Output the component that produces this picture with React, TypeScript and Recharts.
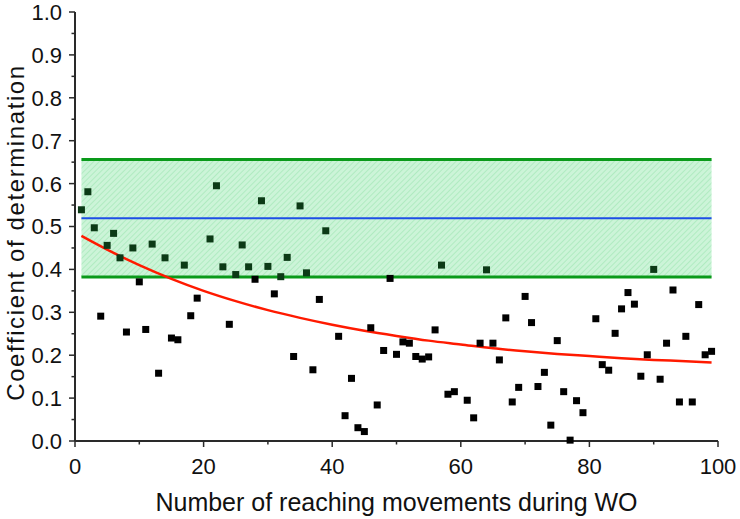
import React from "react";
import {
  ComposedChart,
  Scatter,
  Line,
  XAxis,
  YAxis,
  ReferenceArea,
  ReferenceLine,
  Label,
} from "recharts";

// trial index (reaching movement) and R² for that trial
const trials = [
  1, 2, 3, 4, 5, 6, 7, 8, 9, 10, 11, 12, 13, 14, 15, 16, 17, 18, 19,
  21, 22, 23, 24, 25, 26, 27, 28, 29, 30, 31, 32, 33, 34, 35, 36, 37, 38, 39,
  41, 42, 43, 44, 45, 46, 47, 48, 49, 50, 51, 52, 53, 54, 55, 56, 57, 58, 59,
  61, 62, 63, 64, 65, 66, 67, 68, 69, 70, 71, 72, 73, 74, 75, 76, 77, 78, 79,
  81, 82, 83, 84, 85, 86, 87, 88, 89, 90, 91, 92, 93, 94, 95, 96, 97, 98, 99,
];
const r2 = [
  0.539, 0.581, 0.497, 0.291, 0.456, 0.484, 0.427, 0.254, 0.45, 0.371, 0.26, 0.459, 0.158, 0.427, 0.24, 0.236, 0.41, 0.292, 0.333,
  0.471, 0.595, 0.406, 0.272, 0.388, 0.457, 0.406, 0.377, 0.56, 0.407, 0.343, 0.383, 0.428, 0.197, 0.548, 0.392, 0.166, 0.33, 0.49,
  0.244, 0.059, 0.146, 0.031, 0.022, 0.264, 0.084, 0.211, 0.379, 0.202, 0.231, 0.228, 0.197, 0.191, 0.196, 0.259, 0.41, 0.109, 0.115,
  0.095, 0.054, 0.228, 0.399, 0.228, 0.189, 0.287, 0.091, 0.125, 0.337, 0.276, 0.127, 0.16, 0.037, 0.234, 0.115, 0.002, 0.094, 0.066,
  0.285, 0.178, 0.165, 0.251, 0.308, 0.346, 0.319, 0.151, 0.201, 0.4, 0.144, 0.228, 0.352, 0.091, 0.244, 0.091, 0.318, 0.201, 0.209,
];

// fitted decay curve
const fitTrials = [1, 5, 10, 15, 20, 25, 30, 35, 40, 45, 50, 55, 60, 65, 70, 75, 80, 85, 90, 95, 99];
const fitValues = [
  0.478, 0.446, 0.41, 0.378, 0.35, 0.326, 0.305, 0.287, 0.271, 0.257, 0.245,
  0.234, 0.225, 0.216, 0.209, 0.203, 0.198, 0.193, 0.189, 0.186, 0.183,
];

// mean ± SD band
const bandStart = 1;
const bandEnd = 99;
const bandLow = 0.382;
const bandHigh = 0.656;
const bandMean = 0.519;

const xTicks = [0, 10, 20, 30, 40, 50, 60, 70, 80, 90, 100];
const yTicks = [
  0, 0.05, 0.1, 0.15, 0.2, 0.25, 0.3, 0.35, 0.4, 0.45, 0.5,
  0.55, 0.6, 0.65, 0.7, 0.75, 0.8, 0.85, 0.9, 0.95, 1.0,
];

const points = trials.map((x, i) => ({ x, y: r2[i] }));
const fitData = fitTrials.map((x, i) => ({ x, y: fitValues[i] }));

const FONT = "'Liberation Sans', Arial, sans-serif";
const AXIS = "#2a2a2a";

const SquareDot = (props: any) => {
  const { cx, cy, payload } = props;
  if (cx == null || cy == null) return null;
  const inBand = payload.y >= bandLow && payload.y <= bandHigh;
  return (
    <rect
      x={cx - 3.5}
      y={cy - 3.5}
      width={7}
      height={7}
      fill={inBand ? "#0c3a16" : "#000000"}
    />
  );
};

const XTick = (props: any) => {
  const { x, y, payload } = props;
  const major = payload.value % 20 === 0;
  return (
    <g>
      <line x1={x} x2={x} y1={y} y2={y + (major ? 6 : 3.5)} stroke={AXIS} strokeWidth={1.5} />
      {major && (
        <text x={x} y={y + 33} textAnchor="middle" fontSize={22} fontFamily={FONT} fill="#111">
          {payload.value}
        </text>
      )}
    </g>
  );
};

const YTick = (props: any) => {
  const { x, y, payload } = props;
  const major = Math.round(payload.value * 20) % 2 === 0;
  return (
    <g>
      <line x1={x} x2={x - (major ? 6 : 3.5)} y1={y} y2={y} stroke={AXIS} strokeWidth={1.5} />
      {major && (
        <text x={x - 13} y={y} dy="0.36em" textAnchor="end" fontSize={22} fontFamily={FONT} fill="#111">
          {payload.value.toFixed(1)}
        </text>
      )}
    </g>
  );
};

const XTitle = (props: any) => {
  const vb = props.viewBox || { x: 75, y: 441, width: 643 };
  return (
    <text
      x={vb.x + vb.width / 2}
      y={vb.y + 70}
      textAnchor="middle"
      fontSize={25}
      fontFamily={FONT}
      fill="#111"
    >
      Number of reaching movements during WO
    </text>
  );
};

const YTitle = (props: any) => {
  const vb = props.viewBox || { x: 0, y: 12, height: 429 };
  const cx = 24;
  const cy = vb.y + vb.height / 2 + 6;
  return (
    <text
      x={cx}
      y={cy}
      transform={`rotate(-90, ${cx}, ${cy})`}
      textAnchor="middle"
      fontSize={24}
      letterSpacing={1.6}
      fontFamily={FONT}
      fill="#111"
    >
      Coefficient of determination
    </text>
  );
};

export default function App() {
  return (
    <div style={{ position: "absolute", left: 0, top: 0, background: "#fff" }}>
      <ComposedChart
        width={740}
        height={519}
        margin={{ top: 12, right: 22, bottom: 0, left: 0 }}
      >
        <defs>
          <pattern
            id="bandHatch"
            width={4}
            height={4}
            patternUnits="userSpaceOnUse"
            patternTransform="rotate(45)"
          >
            <rect width={4} height={4} fill="rgb(0,200,60)" fillOpacity={0.2} />
            <line x1={0} y1={0} x2={0} y2={4} stroke="rgb(0,170,50)" strokeOpacity={0.18} strokeWidth={1.5} />
          </pattern>
        </defs>
        <XAxis
          type="number"
          dataKey="x"
          domain={[0, 100]}
          ticks={xTicks}
          interval={0}
          height={78}
          tickSize={0}
          tickMargin={0}
          tick={<XTick />}
          axisLine={{ stroke: AXIS, strokeWidth: 2 }}
        >
          <Label content={<XTitle />} />
        </XAxis>
        <YAxis
          type="number"
          dataKey="y"
          domain={[0, 1]}
          ticks={yTicks}
          interval={0}
          width={75}
          tickSize={0}
          tickMargin={0}
          tick={<YTick />}
          axisLine={{ stroke: AXIS, strokeWidth: 2 }}
        >
          <Label content={<YTitle />} />
        </YAxis>
        <Scatter data={points} dataKey="y" shape={SquareDot} isAnimationActive={false} />
        <ReferenceArea
          x1={bandStart}
          x2={bandEnd}
          y1={bandLow}
          y2={bandHigh}
          fill="url(#bandHatch)"
          fillOpacity={1}
          stroke="none"
        />
        <ReferenceLine
          segment={[{ x: bandStart, y: bandHigh }, { x: bandEnd, y: bandHigh }]}
          stroke="#0a9a1a"
          strokeWidth={3}
        />
        <ReferenceLine
          segment={[{ x: bandStart, y: bandLow }, { x: bandEnd, y: bandLow }]}
          stroke="#0a9a1a"
          strokeWidth={3}
        />
        <ReferenceLine
          segment={[{ x: bandStart, y: bandMean }, { x: bandEnd, y: bandMean }]}
          stroke="#1e4fe6"
          strokeWidth={2}
        />
        <Line
          data={fitData}
          dataKey="y"
          type="monotone"
          stroke="#ff1a00"
          strokeWidth={2.5}
          dot={false}
          isAnimationActive={false}
        />
      </ComposedChart>
    </div>
  );
}
